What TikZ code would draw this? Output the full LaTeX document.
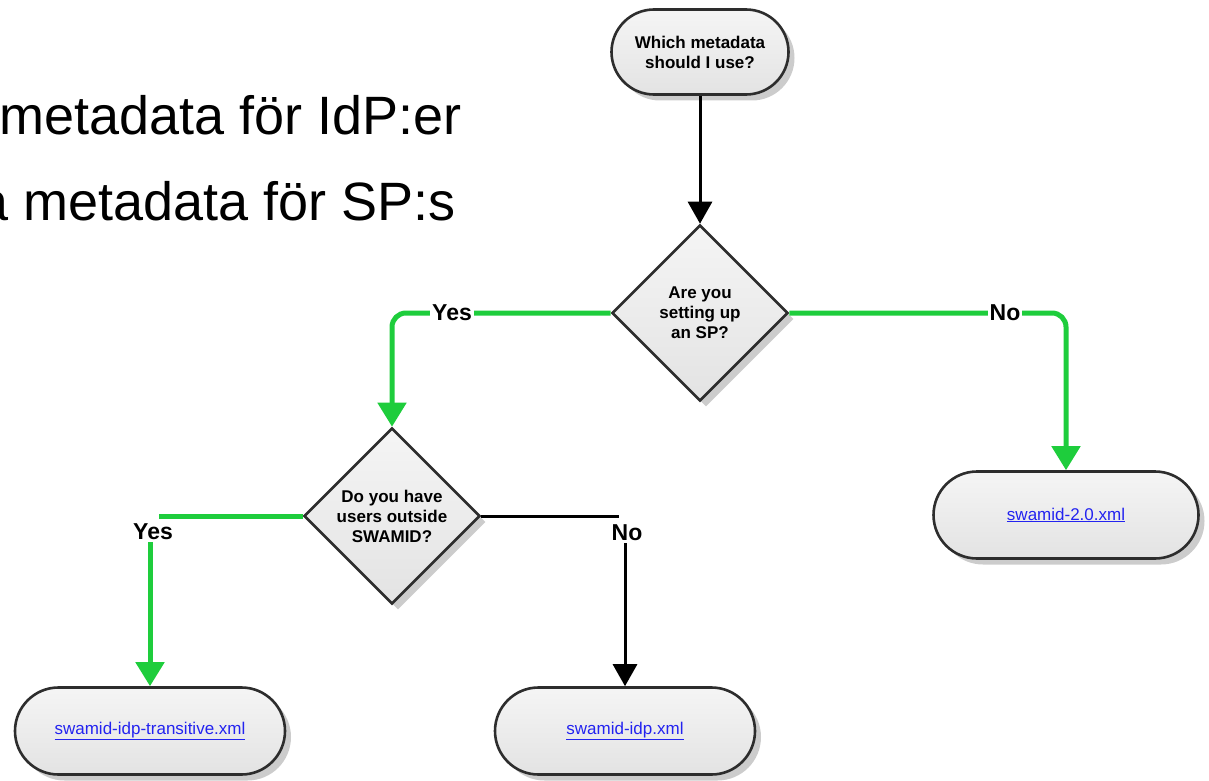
\documentclass[tikz,border=0pt]{standalone}
\usepackage{fontspec}
\setmainfont{Liberation Sans}
\usetikzlibrary{shapes.geometric,shapes.misc,shadows,arrows.meta}
\definecolor{yesgreen}{RGB}{30,205,60}
\definecolor{linkblue}{RGB}{35,35,240}
\definecolor{edgegray}{RGB}{45,45,45}
\begin{document}
\begin{tikzpicture}[x=1pt,y=-1pt,
	boxbase/.style={draw=edgegray, line width=2.6pt, top color=gray!8, bottom color=gray!22,
		drop shadow={shadow xshift=6pt, shadow yshift=-6pt, fill=black!40}},
	startbox/.style={boxbase, rounded rectangle, minimum width=177pt, minimum height=85pt, inner sep=0pt,
		align=center, font=\fontsize{17}{20}\selectfont\bfseries},
	askbox/.style={boxbase, diamond, aspect=1, minimum width=176pt, minimum height=176pt, inner sep=0pt,
		align=center, font=\fontsize{17}{20}\selectfont\bfseries},
	filebox/.style={boxbase, rounded rectangle, minimum height=87pt, inner sep=0pt,
		font=\fontsize{17}{20}\selectfont, text=linkblue},
	yesline/.style={draw=yesgreen, line width=5pt, rounded corners=14pt},
	noline/.style={draw=black, line width=3pt, rounded corners=14pt},
	yestip/.style={-{Triangle[width=28pt,length=24pt]}},
	notip/.style={-{Triangle[width=24pt,length=22pt]}},
	lbl/.style={fill=white, inner sep=2pt, font=\fontsize{23}{26}\selectfont\bfseries}]
	% 画布大小
	\def\picWidth{1209}
	\def\picHeight{781}
	\useasboundingbox (0,0) rectangle (\picWidth,\picHeight);
	\clip (0,0) rectangle (\picWidth,\picHeight);
	
	% 左上角的文字
	\node[anchor=base east, inner sep=0pt, font=\fontsize{54}{60}\selectfont] (txtidp) at (462,135) {metadata för IdP:er};
	\node[anchor=base east, inner sep=0pt, font=\fontsize{54}{60}\selectfont] (txtsp) at (456,220) {a metadata för SP:s};
	
	% 流程图的节点
	\node[startbox] (start) at (700,52) {Which metadata\\should I use?};
	\node[askbox] (asksp) at (700,313) {Are you\\setting up\\an SP?};
	\node[askbox] (askusers) at (392,516) {Do you have\\users outside\\SWAMID?};
	\node[filebox, minimum width=265pt] (fileall) at (1066,515) {\underline{swamid-2.0.xml}};
	\node[filebox, minimum width=270pt] (filetrans) at (150,731) {\underline{swamid-idp-transitive.xml}};
	\node[filebox, minimum width=260pt] (fileidp) at (625,731) {\underline{swamid-idp.xml}};
	
	% 下面两个标签
	\node[lbl, fill=none] (yesusers) at (153,532) {Yes};
	\node[lbl, fill=none] (nousers) at (627,533) {No};
	
	% 连线
	\draw[noline, notip] (start.south) -- (asksp.north);
	\draw[yesline, yestip] (asksp.west) -| (askusers.north);
	\draw[yesline, yestip] (asksp.east) -| (fileall.north);
	\draw[yesline] (askusers.west) -- ([xshift=6pt]askusers.west -| yesusers.north);
	\draw[yesline, yestip] (yesusers.south -| filetrans.north) -- (filetrans.north);
	\draw[noline] (askusers.east) -- ([xshift=-8pt]askusers.east -| nousers.north);
	\draw[noline, notip] (nousers.south -| fileidp.north) -- (fileidp.north);
	
	% 上面两个标签
	\node[lbl] (yessp) at (452,313) {Yes};
	\node[lbl] (nosp) at (1005,313) {No};
\end{tikzpicture}
\end{document}
